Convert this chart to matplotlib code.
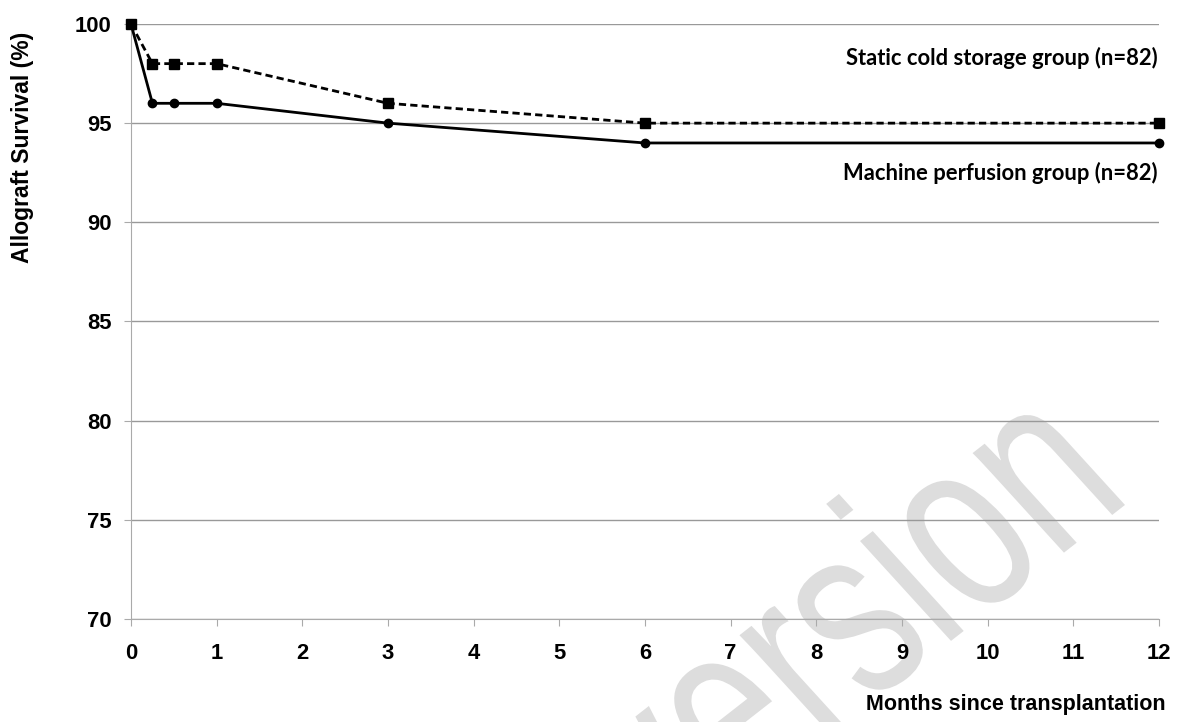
import matplotlib.pyplot as plt
import matplotlib.transforms as mtransforms
from matplotlib.textpath import TextPath
from matplotlib.patches import PathPatch
from matplotlib.font_manager import FontProperties

months = [0, 0.25, 0.5, 1, 3, 6, 12]
static_cold = [100, 98, 98, 98, 96, 95, 95]
machine_perf = [100, 96, 96, 96, 95, 94, 94]
x_ticks = list(range(0, 13))
y_ticks = [70, 75, 80, 85, 90, 95, 100]

plt.rcParams['font.family'] = ['Liberation Sans', 'DejaVu Sans']

fig = plt.figure(figsize=(11.77, 7.22), dpi=100)
ax = fig.add_axes([0.1113, 0.1427, 0.8734, 0.8241])
ax.set_facecolor('none')

# grey "version" watermark: condensed, slightly back-slanted, rotated (pixel coords)
wm = TextPath((0, 0), 'version', size=255, prop=FontProperties(family='Liberation Sans'))
wm_tr = (mtransforms.Affine2D().skew_deg(-6, 0).scale(0.72, 1).rotate_deg(38)
         .translate(668, -140))
fig.patches.append(PathPatch(wm, transform=wm_tr, facecolor='#dddddd',
                             edgecolor='none', zorder=-1))

ax.plot(months, static_cold, color='black', lw=2, ls=(0, (2.6, 1.5)),
        marker='s', ms=6.5, clip_on=False, zorder=3)
ax.plot(months, machine_perf, color='black', lw=2, ls='-',
        marker='o', ms=6, clip_on=False, zorder=3)

ax.set_xlim(0, 12)
ax.set_ylim(70, 100)
ax.set_xticks(x_ticks)
ax.set_yticks(y_ticks)
ax.grid(axis='y', color='#999999', lw=1)
ax.set_axisbelow(True)
for s in ['top', 'right']:
    ax.spines[s].set_visible(False)
for s in ['left', 'bottom']:
    ax.spines[s].set_color('#aaaaaa')
ax.tick_params(axis='x', length=5, color='#aaaaaa', pad=12, labelsize=15.8)
ax.tick_params(axis='y', length=5, color='#aaaaaa', pad=9, labelsize=15.8)
for lab in ax.get_xticklabels() + ax.get_yticklabels():
    lab.set_fontweight('bold')

ax.text(11.98, 98.3, 'Static cold storage group (n=82)', ha='right', va='center',
        fontsize=15.8, fontweight='bold', family='Lato')
ax.text(11.98, 92.5, 'Machine perfusion group (n=82)', ha='right', va='center',
        fontsize=15.8, fontweight='bold', family='Lato')

fig.text(0.019, 0.796, 'Allograft Survival (%)', rotation=90, ha='center', va='center',
         fontsize=16.5, fontweight='bold')
fig.text(0.99, 0.024, 'Months since transplantation', ha='right', va='center',
         fontsize=15.5, fontweight='bold')

fig.savefig('out.png', dpi=100)
